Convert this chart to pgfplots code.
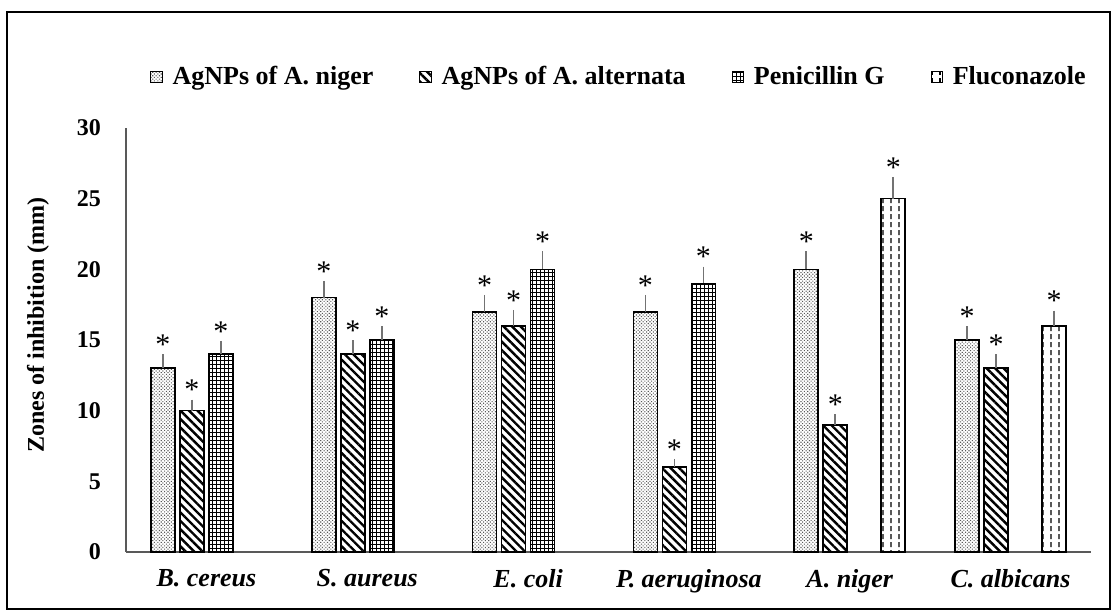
\documentclass[border=0pt]{standalone}
\usepackage{pgfplots}
\pgfplotsset{compat=1.18}
\usepackage{pgfplotstable}
\usepackage{fontspec}
\setmainfont{Liberation Serif}
\usetikzlibrary{patterns,patterns.meta}

\tikzdeclarepattern{
  name=vdashes,
  type=uncolored,
  bounding box={(0pt,0pt) and (4pt,4pt)},
  tile size={(4pt,4pt)},
  code={\draw[line width=0.6pt] (2pt,0.5pt) -- (2pt,3pt);}
}

\pgfplotstableread{
x y e
0 13 0.7
1 18 0.9
2 17 0.9
3 17 0.9
4 20 1.0
5 15 0.7
}\niger
\pgfplotstableread{
x y e
0 10 0.5
1 14 0.7
2 16 0.85
3 6 0.3
4 9 0.45
5 13 0.7
}\alternata
\pgfplotstableread{
x y e
0 14 0.65
1 15 0.7
2 20 1.0
3 19 0.9
}\penicillin
\pgfplotstableread{
x y e
4 25 1.25
5 16 0.8
}\flucon

\pgfplotsset{
  errs/.style={
    /pgfplots/error bars/y dir=plus,
    /pgfplots/error bars/y explicit,
    /pgfplots/error bars/error bar style={draw=black!55, line width=0.8pt},
    /pgfplots/error bars/error mark options={draw=black!55, line width=0.8pt, mark size=2pt},
  },
  stars/.style={
    visualization depends on={\thisrow{e} \as \err},
    nodes near coords={\normalfont\fontsize{15}{15}\selectfont *},
    every node near coord/.append style={text=black, anchor=south, inner sep=1.5pt, yshift={\err*7.067pt}},
  },
}

\begin{document}
\begin{tikzpicture}
\begin{axis}[
  scale only axis, width=482.5pt, height=212pt,
  xmin=-0.5, xmax=5.5, ymin=0, ymax=30,
  ytick={0,5,...,30},
  xtick={0,...,5},
  xticklabels={B. cereus, S. aureus, E. coli, P. aeruginosa, A. niger, C. albicans},
  axis x line*=bottom, axis y line*=left,
  axis line style={draw=black!65, line width=0.7pt, -},
  major tick length=0pt,
  /pgf/number format/assume math mode=true,
  yticklabel style={font=\bfseries\fontsize{12}{14}\selectfont, xshift=-9pt},
  xticklabel style={font=\bfseries\itshape\fontsize{13}{15}\selectfont, yshift=-5pt},
  ylabel={Zones of inhibition (mm)},
  ylabel style={font=\bfseries\fontsize{12}{14}\selectfont, at={(rel axis cs:-0.0912,0.535)}, anchor=center},
  ybar, bar width=12pt,
  clip=false,
  legend columns=4,
  legend style={draw=none, at={(0.512,1.12)}, anchor=center,
    font=\bfseries\fontsize{13}{15}\selectfont,
    /tikz/every odd column/.append style={column sep=3pt},
    /tikz/every even column/.append style={column sep=21pt}},
  legend image code/.code={\draw[#1, line width=0.5pt] (0pt,-2.8pt) rectangle (5.6pt,2.8pt);},
]
\addplot[draw=black, line width=0.8pt, pattern={Dots[distance=1.2pt, radius=0.38pt, angle=45]}, pattern color=black!65,
  bar shift=-21.75pt, stars, errs] table[x=x, y=y, y error=e] {\niger};
\addplot[draw=black, line width=0.8pt, pattern={Lines[angle=-45, distance=3pt, line width=1.2pt]}, pattern color=black,
  bar shift=-7.25pt, stars, errs] table[x=x, y=y, y error=e] {\alternata};
\addplot[draw=black, line width=0.8pt, pattern={Hatch[angle=0, distance=2pt, line width=0.35pt]}, pattern color=black,
  bar shift=7.25pt, stars, errs] table[x=x, y=y, y error=e] {\penicillin};
\addplot[draw=black, line width=0.8pt, pattern=vdashes, pattern color=black,
  bar shift=21.75pt, stars, errs] table[x=x, y=y, y error=e] {\flucon};
\legend{AgNPs of A. niger, AgNPs of A. alternata, Penicillin G, Fluconazole}
\draw[line width=0.8pt] (rel axis cs:-0.1233,-0.1344) rectangle (rel axis cs:1.0197,1.2736);
\path (rel axis cs:-0.1306,-0.1415) rectangle (rel axis cs:1.0228,1.3019);
\end{axis}
\end{tikzpicture}
\end{document}
